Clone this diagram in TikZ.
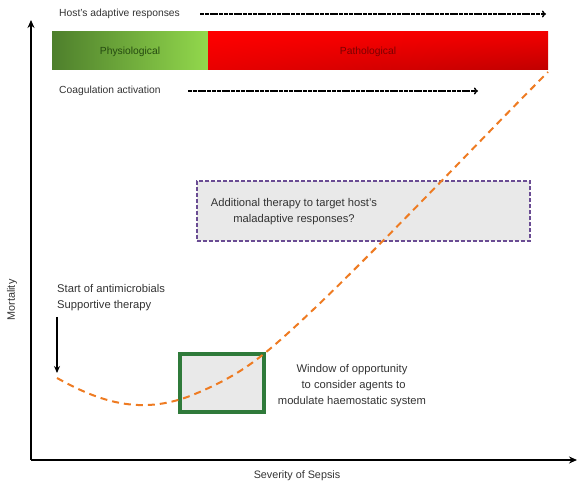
\documentclass[tikz,border=0pt]{standalone}
\usepackage{fontspec}
\setmainfont{Liberation Sans}
\usetikzlibrary{arrows.meta,shadings}
\definecolor{curveorange}{HTML}{EE7B22}
\definecolor{darkg}{HTML}{4E7F2C}
\definecolor{lightg}{HTML}{92D84C}
\definecolor{boxgreen}{HTML}{2F7A3A}
\definecolor{boxpurple}{HTML}{6A4C93}
\definecolor{boxfill}{HTML}{E9E9E9}
\definecolor{redA}{HTML}{FF0000}
\definecolor{redB}{HTML}{F20000}
\definecolor{redC}{HTML}{E80000}
\definecolor{redD}{HTML}{C00000}
\definecolor{pathtext}{HTML}{7A0000}
\definecolor{phystext}{HTML}{254A10}
\tikzset{
  lbl/.style={font=\fontsize{10.3}{16}\selectfont, text=black!80, inner sep=0pt},
  biglbl/.style={font=\fontsize{11.2}{16}\selectfont, text=black!80, inner sep=0pt},
  dotarrow/.style={line width=1.4pt, dash pattern=on 4pt off 0.8pt, -{To[length=4pt,width=7pt]}},
  axis/.style={line width=1.6pt, -{Stealth[length=8pt,width=7pt]}},
}
\begin{document}
\begin{tikzpicture}[x=1pt,y=-1pt]
\useasboundingbox (0,0) rectangle (579,486);
% axes
\coordinate (O) at (31,460);
\coordinate (ytop) at (31,20);
\coordinate (xend) at (577,460);
\draw[axis] (O) -- (ytop);
\draw[axis] (O) -- (xend);
\node[lbl, font=\fontsize{10.8}{16}\selectfont, rotate=90] (mort) at (12,300) {Mortality};
\node[lbl, font=\fontsize{10.8}{16}\selectfont] (sev) at (297,476) {Severity of Sepsis};
% top labels and bar
\node[lbl, anchor=west] (host) at (59,14) {Host's adaptive responses};
\coordinate (h1) at (200,14);
\coordinate (h2) at (546,14);
\draw[dotarrow] (h1) -- (h2);
\shade[left color=darkg, right color=lightg] (52,32) rectangle (208,70);
\shade[upper left=redA, upper right=redB, lower left=redC, lower right=redD] (208,32) rectangle (548,70);
\node[lbl, text=phystext] (phys) at (130,52) {Physiological};
\node[lbl, text=pathtext] (path) at (368,52) {Pathological};
\node[lbl, anchor=west] (coag) at (59,91) {Coagulation activation};
\coordinate (c1) at (188,91);
\coordinate (c2) at (478,91);
\draw[dotarrow] (c1) -- (c2);
% purple box
\node[draw=boxpurple, line width=1.8pt, dash pattern=on 4pt off 2pt, fill=boxfill,
  minimum width=333pt, minimum height=60pt, inner sep=0pt] (addbox) at (363.5,211) {};
\node[biglbl, align=center] (addtxt) at (294,212) {Additional therapy to target host's\\maladaptive responses?};
% green box
\node[draw=boxgreen, line width=3.5pt, fill=boxfill, minimum width=84pt, minimum height=58pt, inner sep=0pt] (win) at (222,383) {};
\node[biglbl, align=center] (wintxt) at (352,386) {Window of opportunity\\\ to consider agents to\\modulate haemostatic system};
% start label and arrow
\node[biglbl, anchor=west, align=left] (start) at (57,298) {Start of antimicrobials\\Supportive therapy};
\coordinate (a1) at (57,317);
\coordinate (a2) at (57,373);
\draw[line width=1.4pt, -{Stealth[length=7pt,width=6pt]}] (a1) -- (a2);
% orange curve
\coordinate (s) at (57,378);
\coordinate (e) at (548,72);
\draw[curveorange, line width=2pt, dash pattern=on 7pt off 5pt]
  (s) .. controls (100,402) and (140,415) .. (190,396)
  .. controls (230,380) and (250,365) .. (265,353)
  .. controls (330,300) and (470,150) .. (e);
\end{tikzpicture}
\end{document}
